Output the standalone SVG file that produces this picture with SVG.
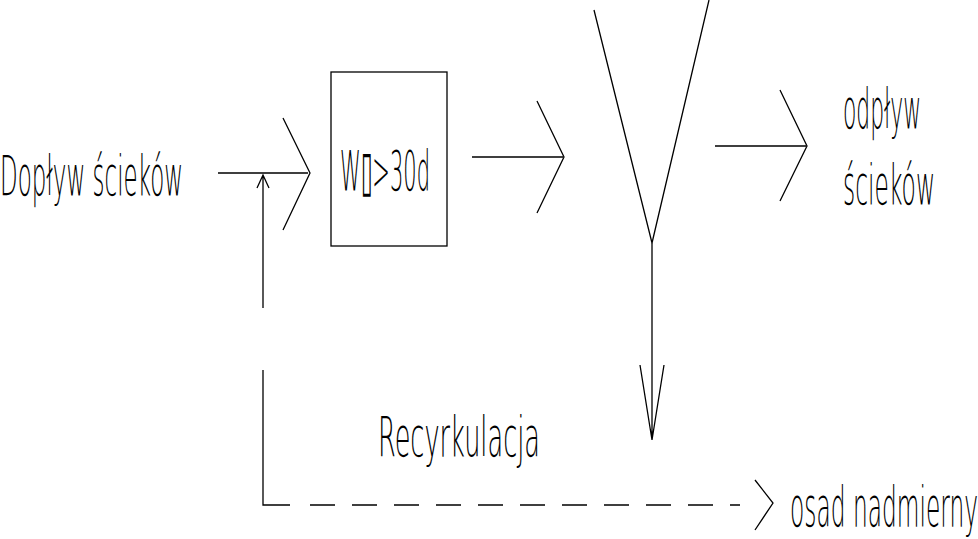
<svg xmlns="http://www.w3.org/2000/svg" width="978" height="539" viewBox="0 0 978 539">
<style>
.l{stroke:#000;stroke-width:1.3;fill:none}
.d{stroke-dasharray:25,17}
text{font-family:"DejaVu Sans","Liberation Sans",sans-serif;font-weight:200;font-size:56px;fill:#000}
</style>
<rect width="978" height="539" fill="#fff"/>
<g id="inflow"><text x="0" y="195" textLength="183" lengthAdjust="spacingAndGlyphs">Dopływ ścieków</text></g>
<g id="reactor"><rect class="l" x="331" y="72" width="116" height="174"/><text x="340" y="190" textLength="90" lengthAdjust="spacingAndGlyphs">W▯&gt;30d</text></g>
<g id="settler"><path class="l" d="M594,10 L652,243 L709,0"/></g>
<g id="outflow"><text x="843" y="128" textLength="78" lengthAdjust="spacingAndGlyphs">odpływ</text><text x="843" y="204" textLength="92" lengthAdjust="spacingAndGlyphs">ścieków</text></g>
<g id="recirc-label"><text x="378" y="456" textLength="162" lengthAdjust="spacingAndGlyphs">Recyrkulacja</text></g>
<g id="excess"><text x="790" y="526" textLength="188" lengthAdjust="spacingAndGlyphs">osad nadmierny</text></g>
<g id="connectors">
<path class="l" d="M218,173 H308 M283,118 L310,173 L283,230"/>
<path class="l" d="M263,308 V175 M257,188 L263,175 L269,188"/>
<path class="l" d="M472,157 H563 M537,101 L564,157 L537,213"/>
<path class="l" d="M652,243 V440 M640,365 L652,440 L664,365"/>
<path class="l" d="M715,146 H806 M780,90 L807,146 L780,201"/>
<path class="l" d="M263,370 V505 H290"/>
<path class="l d" d="M310,505 H740"/>
<path class="l" d="M755,480 L773,503 L755,530"/>
</g>
</svg>
